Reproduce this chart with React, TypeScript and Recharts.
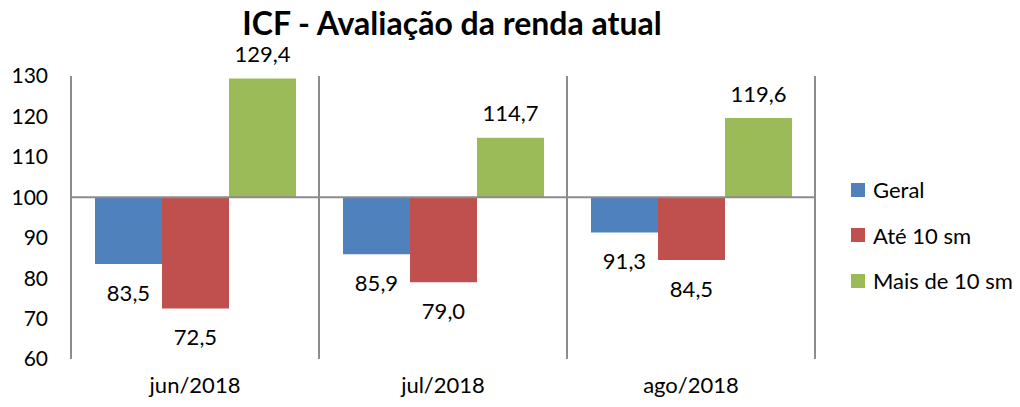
import { BarChart, Bar, XAxis, YAxis, CartesianGrid, ReferenceLine, LabelList } from 'recharts';

const categories = ['jun/2018', 'jul/2018', 'ago/2018'];
const geral = [83.5, 85.9, 91.3];
const ate10 = [72.5, 79.0, 84.5];
const mais10 = [129.4, 114.7, 119.6];
const yTicks = [60, 70, 80, 90, 100, 110, 120, 130];
const BASE = 100;

const series = [
  { key: 'geral', name: 'Geral', color: '#4f81bd' },
  { key: 'ate10', name: 'Até 10 sm', color: '#c0504d' },
  { key: 'mais10', name: 'Mais de 10 sm', color: '#9bbb59' },
];

const data = categories.map((c, i) => ({
  cat: c,
  geral: geral[i],
  ate10: ate10[i],
  mais10: mais10[i],
}));

const FONT = 'Lato, "Open Sans", sans-serif';
const fmt = (v: number) => v.toFixed(1).replace('.', ',');

const ValueLabel = (props: any) => {
  const { x, y, width, height, value } = props;
  const top = Math.min(y, y + height);
  const bottom = Math.max(y, y + height);
  const above = value >= BASE;
  return (
    <text
      x={x + width / 2}
      y={above ? top - 22 : bottom + 31}
      textAnchor="middle"
      dominantBaseline="middle"
      fontSize={22}
      fontFamily={FONT}
      fill="#000"
    >
      {fmt(value)}
    </text>
  );
};

export default function App() {
  return (
    <div style={{ position: 'absolute', left: 0, top: 0, width: 1020, height: 407, background: '#fff' }}>
      <div
        style={{
          position: 'absolute',
          left: 0,
          width: 904,
          top: 3,
          textAlign: 'center',
          fontFamily: FONT,
          fontWeight: 'bold',
          fontSize: 32,
          color: '#000',
        }}
      >
        ICF - Avaliação da renda atual
      </div>
      <BarChart
        width={1020}
        height={407}
        data={data}
        margin={{ top: 76, right: 205, left: 11, bottom: 8 }}
        barCategoryGap={24}
        barGap={0}
      >
        <CartesianGrid
          horizontal={false}
          stroke="#8c8c8c"
          strokeWidth={2}
          verticalCoordinatesGenerator={({ offset }: any) =>
            categories.concat(['']).map((_, i) => offset.left + (i * offset.width) / categories.length)
          }
        />
        <XAxis
          dataKey="cat"
          axisLine={false}
          tickLine={false}
          height={40}
          tick={{ fontSize: 22, fontFamily: FONT, fill: '#000' }}
          tickMargin={12}
        />
        <YAxis
          domain={[60, 130]}
          ticks={yTicks}
          allowDataOverflow
          axisLine={false}
          tickLine={false}
          width={60}
          tickMargin={17}
          tick={{ fontSize: 21, fontFamily: FONT, fill: '#000' }}
        />
        {series.map((s) => (
          <Bar
            key={s.key}
            dataKey={(d: any) => [BASE, d[s.key]]}
            name={s.name}
            fill={s.color}
            isAnimationActive={false}
          >
            <LabelList dataKey={s.key} content={<ValueLabel />} />
          </Bar>
        ))}
        <ReferenceLine y={BASE} stroke="#8c8c8c" strokeWidth={2} />
      </BarChart>
      <div style={{ position: 'absolute', left: 851, top: 167, fontFamily: FONT, fontSize: 22, color: '#000' }}>
        {series.map((s) => (
          <div key={s.key} style={{ display: 'flex', alignItems: 'center', height: 45.5 }}>
            <span style={{ width: 14, height: 14, background: s.color, marginRight: 8, display: 'inline-block' }} />
            <span>{s.name}</span>
          </div>
        ))}
      </div>
    </div>
  );
}
